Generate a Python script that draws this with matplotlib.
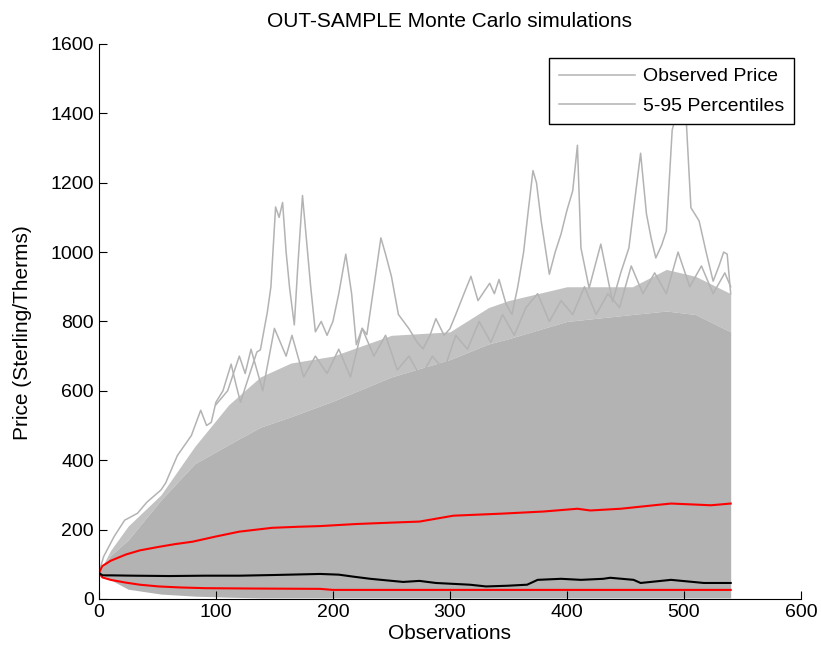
import numpy as np
import matplotlib
matplotlib.use("Agg")
import matplotlib.pyplot as plt

plt.rcParams['font.family'] = ['Liberation Sans', 'DejaVu Sans']

# grey cloud of simulated paths
band_x = [0, 10, 25, 53, 82, 111, 138, 164, 200, 250, 300, 333, 350, 400, 456, 485, 510, 540]
band_low = [75, 55, 28, 14, 8, 5, 3, 3, 3, 3, 3, 3, 3, 3, 3, 3, 3, 3]
band_dense = [75, 125, 170, 285, 390, 445, 495, 525, 570, 640, 690, 735, 750, 800, 820, 830, 820, 770]
band_mid = [75, 140, 210, 300, 440, 560, 640, 680, 700, 760, 770, 840, 860, 900, 900, 950, 930, 880]

# outermost simulated path (upper envelope)
env_x = [0, 4, 13, 22, 33, 41, 53, 57, 67, 79, 87, 92, 96, 100, 106, 113, 117, 121, 128, 135,
         138, 144, 147, 151, 154, 157, 160, 163, 167, 170, 174, 177, 181, 185, 190, 195, 200, 205, 211, 216,
         220, 225, 229, 235, 241, 245, 250, 256, 265, 272, 277, 283, 288, 295, 300, 305, 312, 318, 324, 328,
         334, 338, 342, 348, 353, 358, 363, 367, 371, 374, 378, 385, 390, 395, 400, 405, 409, 412, 419, 424,
         429, 434, 439, 446, 453, 458, 463, 468, 472, 476, 481, 485, 490, 493, 497, 502, 506, 513, 519, 525,
         530, 534, 537, 540]
env_y = [75, 122, 180, 227, 247, 279, 314, 334, 413, 471, 544, 500, 509, 567, 600, 677, 620, 567, 640, 712,
         718, 828, 900, 1130, 1100, 1143, 1000, 896, 790, 960, 1163, 1050, 900, 770, 800, 760, 800, 880, 994, 880,
         733, 780, 762, 900, 1041, 994, 930, 820, 779, 740, 721, 760, 808, 760, 779, 820, 880, 930, 860, 880,
         910, 880, 921, 850, 820, 900, 1000, 1120, 1235, 1200, 1090, 936, 1000, 1052, 1120, 1177, 1308, 1012, 896, 960,
         1023, 940, 857, 940, 1012, 1150, 1285, 1110, 1040, 983, 1020, 1061, 1352, 1390, 1395, 1380, 1128, 1090, 1000, 916,
         960, 1000, 994, 880]

# a second-tier simulated path
p2_x = [100, 110, 120, 125, 130, 140, 150, 160, 165, 175, 185, 195, 205, 215, 225, 235, 245, 255, 265, 275,
        285, 295, 305, 315, 325, 335, 345, 355, 365, 375, 385, 395, 405, 415, 425, 435, 445, 455, 465, 475,
        485, 495, 505, 515, 525, 535, 540]
p2_y = [560, 600, 700, 650, 720, 600, 780, 700, 760, 640, 700, 650, 720, 640, 780, 700, 760, 660, 700, 640,
        700, 660, 760, 720, 800, 740, 820, 760, 840, 880, 800, 860, 820, 900, 820, 880, 840, 960, 880, 940,
        880, 1000, 900, 960, 880, 940, 900]

# 95th percentile
p95_x = [0, 3, 10, 23, 35, 51, 65, 80, 100, 120, 148, 170, 189, 220, 250, 274, 303, 345, 380, 409,
         420, 446, 480, 489, 510, 523, 540]
p95_y = [75, 95, 110, 128, 140, 150, 158, 165, 180, 194, 205, 208, 210, 216, 220, 223, 240, 246, 252, 260,
         255, 260, 272, 275, 272, 270, 275]

# 5th percentile
p05_x = [0, 3, 10, 23, 35, 51, 70, 91, 130, 189, 200, 540]
p05_y = [75, 62, 55, 47, 41, 36, 33, 31, 30, 29, 26, 26]

# observed price
obs_x = [0, 3, 10, 30, 60, 90, 120, 150, 189, 205, 218, 232, 260, 274, 288, 317, 331, 349, 366, 375,
         395, 412, 431, 437, 457, 463, 489, 517, 540]
obs_y = [75, 68, 68, 67, 66, 67, 67, 69, 72, 70, 64, 58, 49, 52, 46, 41, 36, 38, 41, 55,
         58, 55, 58, 61, 55, 46, 55, 46, 46]

grey = (0.7, 0.7, 0.7)

fig = plt.figure(figsize=(8.21, 6.56), dpi=100)
ax = fig.add_axes([0.1205, 0.087, 0.855, 0.846])

ax.fill_between(band_x, band_low, band_dense, color=grey, lw=0)
ax.fill_between(band_x, band_dense, band_mid, color=grey, alpha=0.8, lw=0)
l1, = ax.plot(env_x, env_y, color=grey, lw=1.1)
l2, = ax.plot(p2_x, p2_y, color=grey, lw=1.1)

ax.plot(p95_x, p95_y, color='red', lw=1.5)
ax.plot(p05_x, p05_y, color='red', lw=1.5)
ax.plot(obs_x, obs_y, color='black', lw=1.5)

ax.set_xlim(0, 600)
ax.set_ylim(0, 1600)
ax.set_xticks(np.arange(0, 601, 100))
ax.set_yticks(np.arange(0, 1601, 200))
ax.spines['top'].set_visible(False)
ax.spines['right'].set_visible(False)
ax.tick_params(direction='in', length=6, labelsize=14, top=False, right=False)

ax.set_title('OUT-SAMPLE Monte Carlo simulations', fontsize=15, pad=12)
ax.set_xlabel('Observations', fontsize=15, labelpad=2)
ax.set_ylabel('Price (Sterling/Therms)', fontsize=15)
ax.yaxis.set_label_coords(-0.095, 0.48)

leg = ax.legend([l1, l2], ['Observed Price', '5-95 Percentiles'], loc='upper right',
                bbox_to_anchor=(0.998, 0.985), fontsize=14, fancybox=False, framealpha=1,
                edgecolor='black', handlelength=3.9, handletextpad=0.4, borderpad=0.5,
                borderaxespad=0.3, labelspacing=0.6)
leg.get_frame().set_linewidth(1.0)

fig.savefig('out.png', dpi=100)
